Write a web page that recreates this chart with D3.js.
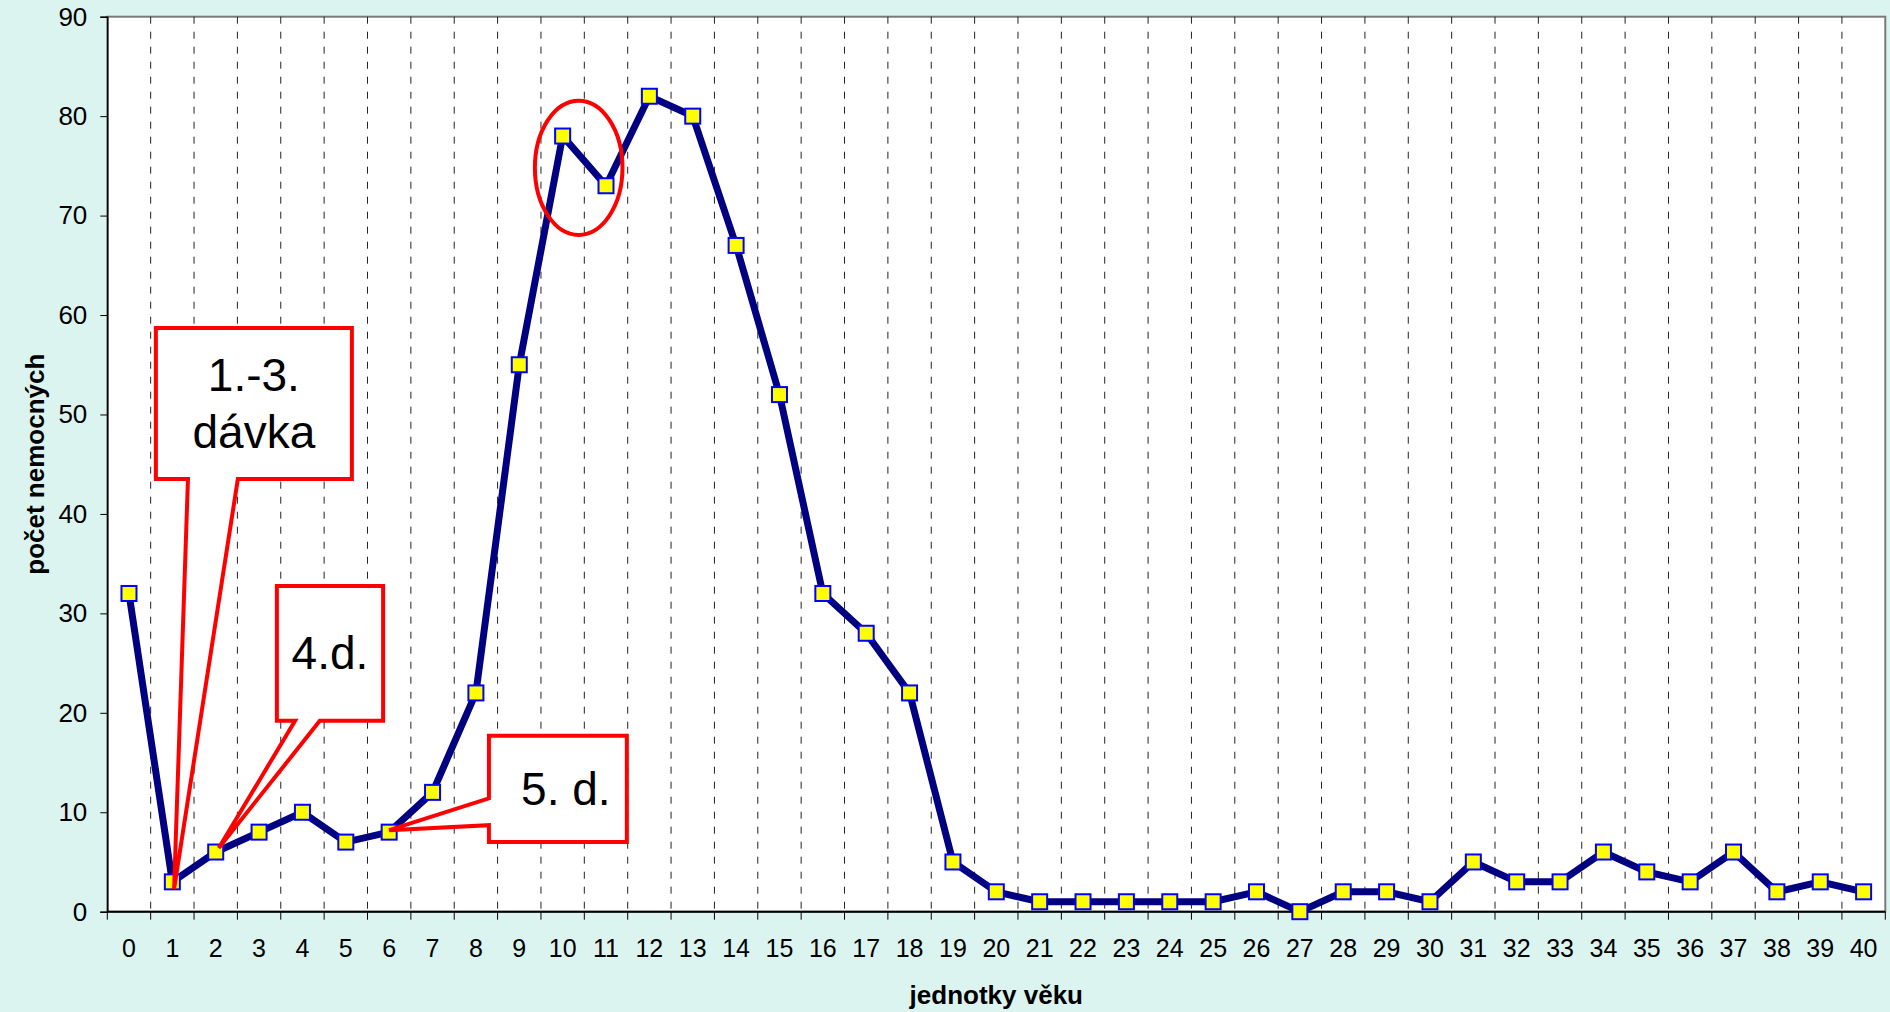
<!DOCTYPE html>
<html>
<head>
<meta charset="utf-8">
<script src="https://cdn.jsdelivr.net/npm/d3@7"></script>
<style>
  body { margin: 0; background: #dcf4f0; }
  svg { display: block; font-family: "Liberation Sans", Arial, sans-serif; }
</style>
</head>
<body>
<script>
// dimensions
var width = 1890;
var height = 1012;

var margin = {
    top: 16.7,
    bottom: 100.3,
    left: 107.3,
    right: 4.7
};

// data
var categories = d3.range(0, 41);
var cases = [32, 3, 6, 8, 10, 7, 8, 12, 22, 55,
             78, 73, 82, 80, 67, 52, 32, 28, 22, 5,
             2, 1, 1, 1, 1, 1, 2, 0, 2, 2,
             1, 5, 3, 3, 6, 4, 3, 6, 2, 3, 2];
var yTicks = [0, 10, 20, 30, 40, 50, 60, 70, 80, 90];
var xTitle = "jednotky věku";
var yTitle = "počet nemocných";

// callouts (in data units: x = category, y = cases)
var callouts = [
    {lines: ["1.-3.", "dávka"], box: [0.62, 5.14, 58.7, 43.5], side: "bottom", base: [1.36, 2.51], tip: [1.04, 2.3], dx: 0},
    {lines: ["4.d."], box: [3.41, 5.86, 32.75, 19.2], side: "bottom", base: [3.83, 4.4], tip: [2.07, 6.4], dx: 0},
    {lines: ["5. d."], box: [8.3, 11.48, 17.7, 7.0], side: "left", base: [11.4, 8.7], tip: [6.0, 8.2], dx: 8}
];
var ring = {cx: 10.37, cy: 74.8, rx: 1.01, ry: 6.74};

var svg = d3.select("body")
    .append("svg")
    .attr("width", width)
    .attr("height", height);

var pw = width - margin.left - margin.right;
var ph = height - margin.top - margin.bottom;

var g = svg.append("g")
    .attr("transform", "translate(" + margin.left + "," + margin.top + ")");

var x = d3.scaleBand().domain(categories).range([0, pw]).padding(0);
var xl = d3.scaleLinear().domain([-0.5, 40.5]).range([0, pw]);
var y = d3.scaleLinear().domain([0, 90]).range([ph, 0]);

// plot background + frame
g.append("rect")
    .attr("width", pw)
    .attr("height", ph)
    .attr("fill", "#fff")
    .attr("stroke", "#7a7a7a")
    .attr("stroke-width", 2);

// dashed vertical grid at category boundaries
g.selectAll(".grid")
    .data(categories.slice(1))
    .enter().append("line")
    .attr("class", "grid")
    .attr("x1", function(d) { return x(d); })
    .attr("x2", function(d) { return x(d); })
    .attr("y1", 0)
    .attr("y2", ph)
    .attr("stroke", "#222")
    .attr("stroke-width", 1)
    .attr("stroke-dasharray", "7,8");

// y axis
var yAxis = g.append("g")
    .call(d3.axisLeft(y).tickValues(yTicks).tickSize(7).tickPadding(13));
yAxis.select(".domain").attr("stroke", "#000").attr("stroke-width", 1.5);
yAxis.selectAll("line").attr("stroke", "#000");
yAxis.selectAll("text")
    .style("font-size", "26px")
    .style("font-family", "Liberation Sans, Arial, sans-serif")
    .attr("fill", "#000");

// x axis: ticks on boundaries, labels centred on categories
var xAxis = g.append("g")
    .attr("transform", "translate(0," + ph + ")");
xAxis.append("line")
    .attr("x1", 0).attr("x2", pw)
    .attr("stroke", "#000").attr("stroke-width", 2);
xAxis.selectAll(".xtick")
    .data(d3.range(0, 42))
    .enter().append("line")
    .attr("class", "xtick")
    .attr("x1", function(d) { return xl(d - 0.5); })
    .attr("x2", function(d) { return xl(d - 0.5); })
    .attr("y1", 0).attr("y2", 8)
    .attr("stroke", "#000");
xAxis.selectAll(".xlab")
    .data(categories)
    .enter().append("text")
    .attr("class", "xlab")
    .attr("x", function(d) { return x(d) + x.bandwidth() / 2; })
    .attr("y", 45)
    .attr("text-anchor", "middle")
    .style("font-size", "25px")
    .text(function(d) { return d; });

// axis titles
svg.append("text")
    .attr("x", margin.left + pw / 2)
    .attr("y", 1004)
    .attr("text-anchor", "middle")
    .style("font-size", "26px")
    .style("font-weight", "bold")
    .text(xTitle);

svg.append("text")
    .attr("transform", "translate(44," + (margin.top + ph / 2) + ") rotate(-90)")
    .attr("text-anchor", "middle")
    .style("font-size", "26px")
    .style("font-weight", "bold")
    .text(yTitle);

// the series line
var line = d3.line()
    .x(function(d, i) { return x(categories[i]) + x.bandwidth() / 2; })
    .y(function(d) { return y(d); });

g.append("path")
    .datum(cases)
    .attr("d", line)
    .attr("fill", "none")
    .attr("stroke", "#000080")
    .attr("stroke-width", 7)
    .attr("stroke-linejoin", "miter");

// square markers
var ms = 15;
g.selectAll(".marker")
    .data(cases)
    .enter().append("rect")
    .attr("class", "marker")
    .attr("x", function(d, i) { return x(categories[i]) + x.bandwidth() / 2 - ms / 2; })
    .attr("y", function(d) { return y(d) - ms / 2; })
    .attr("width", ms)
    .attr("height", ms)
    .attr("fill", "#ffff00")
    .attr("stroke", "#0000ff")
    .attr("stroke-width", 2);

// callout boxes with pointers
function calloutPath(c) {
    var x0 = xl(c.box[0]), x1 = xl(c.box[1]);
    var y0 = y(c.box[2]), y1 = y(c.box[3]);
    var tx = xl(c.tip[0]), ty = y(c.tip[1]);
    var pts;
    if (c.side == "bottom") {
        var b0 = xl(c.base[0]), b1 = xl(c.base[1]);
        pts = [[x0, y0], [x1, y0], [x1, y1], [b1, y1], [tx, ty], [b0, y1], [x0, y1]];
    } else {
        var a0 = y(c.base[0]), a1 = y(c.base[1]);
        pts = [[x0, y0], [x1, y0], [x1, y1], [x0, y1], [x0, a1], [tx, ty], [x0, a0]];
    }
    return "M" + pts.map(function(p) { return p[0] + "," + p[1]; }).join("L") + "Z";
}

var co = g.selectAll(".callout")
    .data(callouts)
    .enter().append("g")
    .attr("class", "callout");

co.append("path")
    .attr("d", calloutPath)
    .attr("fill", "#fff")
    .attr("stroke", "#ff0000")
    .attr("stroke-width", 4)
    .attr("stroke-linejoin", "miter");

co.each(function(c) {
    var cx = (xl(c.box[0]) + xl(c.box[1])) / 2 + c.dx;
    var cy = (y(c.box[2]) + y(c.box[3])) / 2;
    var n = c.lines.length;
    var lh = 57;
    var t = d3.select(this).append("text")
        .attr("text-anchor", "middle")
        .style("font-size", "46px")
        .attr("fill", "#000");
    c.lines.forEach(function(s, i) {
        t.append("tspan")
            .attr("x", cx)
            .attr("y", cy + (i - (n - 1) / 2) * lh + 16)
            .text(s);
    });
});

// red ring round the dip at 10-11
g.append("ellipse")
    .attr("cx", xl(ring.cx))
    .attr("cy", y(ring.cy))
    .attr("rx", xl(ring.cx + ring.rx) - xl(ring.cx))
    .attr("ry", y(ring.cy - ring.ry) - y(ring.cy))
    .attr("fill", "none")
    .attr("stroke", "#ff0000")
    .attr("stroke-width", 4);
</script>
</body>
</html>
